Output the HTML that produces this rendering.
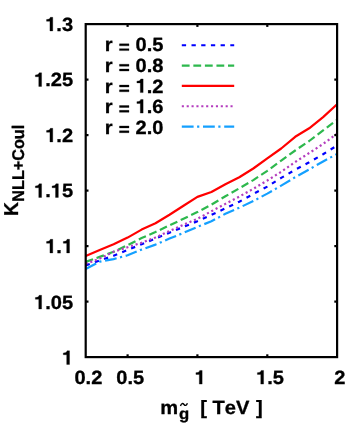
<!DOCTYPE html><html><head><meta charset="utf-8"><style>html,body{margin:0;padding:0;background:#fff}svg{display:block;will-change:transform}text{font-family:"Liberation Sans",sans-serif;font-weight:bold;fill:#000;stroke:#000;stroke-width:0.3px;text-rendering:geometricPrecision;font-kerning:none;white-space:pre}</style></head><body>
<svg width="349" height="439" viewBox="0 0 349 439">
<rect width="349" height="439" fill="#fff"/>
<polyline points="85.7,265.4 99.7,260.5 113.6,255.7 127.6,250.0 141.6,244.2 155.5,238.5 169.5,232.7 183.5,226.9 197.4,221.2 211.4,214.9 225.4,208.3 239.3,201.7 253.3,194.0 267.3,186.6 281.2,177.9 295.2,169.7 309.2,162.3 323.1,154.2 337.1,145.6" fill="none" stroke="#0000ff" stroke-width="2.2" stroke-dasharray="4.3,5.4" stroke-linejoin="round"/>
<polyline points="85.7,261.9 99.7,256.9 113.6,251.8 127.6,245.1 141.6,238.1 155.5,232.1 169.5,225.3 183.5,218.8 197.4,212.1 211.4,204.6 225.4,196.3 239.3,188.3 253.3,180.1 267.3,170.8 281.2,160.6 295.2,150.5 309.2,141.0 323.1,130.4 337.1,119.8" fill="none" stroke="#2db84d" stroke-width="2.2" stroke-dasharray="7.8,3.75" stroke-linejoin="round"/>
<polyline points="85.7,255.9 99.7,250.1 113.6,244.3 127.6,237.6 141.6,229.6 155.5,223.3 169.5,214.8 183.5,205.8 197.4,196.9 211.4,192.0 225.4,184.2 239.3,177.3 253.3,168.5 267.3,158.3 281.2,148.5 295.2,136.8 309.2,128.3 323.1,117.1 337.1,104.2" fill="none" stroke="#ff0000" stroke-width="2.2" stroke-linejoin="round"/>
<polyline points="85.7,263.8 99.7,258.6 113.6,251.8 127.6,247.2 141.6,242.7 155.5,237.5 169.5,231.0 183.5,224.8 197.4,218.8 211.4,211.3 225.4,203.9 239.3,196.6 253.3,188.8 267.3,180.5 281.2,171.8 295.2,162.0 309.2,153.0 323.1,144.0 337.1,133.7" fill="none" stroke="#b43cbe" stroke-width="2.2" stroke-dasharray="2.1,2.77" stroke-linejoin="round"/>
<polyline points="85.7,268.9 99.7,261.7 113.6,259.1 127.6,255.3 141.6,249.6 155.5,244.6 169.5,238.6 183.5,232.9 197.4,226.9 211.4,221.3 225.4,213.8 239.3,207.7 253.3,201.1 267.3,193.6 281.2,185.6 295.2,177.2 309.2,169.4 323.1,161.5 337.1,153.9" fill="none" stroke="#14a0ff" stroke-width="2.2" stroke-dasharray="11.8,3.5,2.2,3.7" stroke-linejoin="round"/>
<rect x="85.7" y="24.1" width="251.40000000000003" height="333.0" fill="none" stroke="#000" stroke-width="2.2"/>
<line x1="127.6" y1="357.1" x2="127.6" y2="354.3" stroke="#000" stroke-width="2.2"/>
<line x1="127.6" y1="24.1" x2="127.6" y2="26.900000000000002" stroke="#000" stroke-width="2.2"/>
<line x1="197.4" y1="357.1" x2="197.4" y2="354.3" stroke="#000" stroke-width="2.2"/>
<line x1="197.4" y1="24.1" x2="197.4" y2="26.900000000000002" stroke="#000" stroke-width="2.2"/>
<line x1="267.3" y1="357.1" x2="267.3" y2="354.3" stroke="#000" stroke-width="2.2"/>
<line x1="267.3" y1="24.1" x2="267.3" y2="26.900000000000002" stroke="#000" stroke-width="2.2"/>
<line x1="85.7" y1="301.6" x2="88.5" y2="301.6" stroke="#000" stroke-width="2.2"/>
<line x1="337.1" y1="301.6" x2="334.3" y2="301.6" stroke="#000" stroke-width="2.2"/>
<line x1="85.7" y1="246.1" x2="88.5" y2="246.1" stroke="#000" stroke-width="2.2"/>
<line x1="337.1" y1="246.1" x2="334.3" y2="246.1" stroke="#000" stroke-width="2.2"/>
<line x1="85.7" y1="190.6" x2="88.5" y2="190.6" stroke="#000" stroke-width="2.2"/>
<line x1="337.1" y1="190.6" x2="334.3" y2="190.6" stroke="#000" stroke-width="2.2"/>
<line x1="85.7" y1="135.1" x2="88.5" y2="135.1" stroke="#000" stroke-width="2.2"/>
<line x1="337.1" y1="135.1" x2="334.3" y2="135.1" stroke="#000" stroke-width="2.2"/>
<line x1="85.7" y1="79.6" x2="88.5" y2="79.6" stroke="#000" stroke-width="2.2"/>
<line x1="337.1" y1="79.6" x2="334.3" y2="79.6" stroke="#000" stroke-width="2.2"/>
<text transform="translate(88.4,384.1) scale(1.047,1)" font-size="19.2" text-anchor="middle" >0.2</text>
<text transform="translate(130.29999999999998,384.1) scale(1.047,1)" font-size="19.2" text-anchor="middle" >0.5</text>
<g transform="translate(200.13333333333333,384.1) scale(1.047,1)"><path transform="translate(-5.34,0) scale(19.2)" d="M0.378,0 H0.238 V-0.505 H0.069 V-0.597 C0.178,-0.598 0.236,-0.632 0.259,-0.710 H0.378 Z" fill="#000" stroke="#000" stroke-width="0.0156"/></g>
<g transform="translate(269.9666666666667,384.1) scale(1.047,1)"><path transform="translate(-13.35,0) scale(19.2)" d="M0.378,0 H0.238 V-0.505 H0.069 V-0.597 C0.178,-0.598 0.236,-0.632 0.259,-0.710 H0.378 Z" fill="#000" stroke="#000" stroke-width="0.0156"/><text x="-2.67" y="0" font-size="19.2" xml:space="preserve">.5</text></g>
<text transform="translate(339.8,384.1) scale(1.047,1)" font-size="19.2" text-anchor="middle" >2</text>
<g transform="translate(73.1,364.45000000000005) scale(1.047,1)"><path transform="translate(-10.68,0) scale(19.2)" d="M0.378,0 H0.238 V-0.505 H0.069 V-0.597 C0.178,-0.598 0.236,-0.632 0.259,-0.710 H0.378 Z" fill="#000" stroke="#000" stroke-width="0.0156"/></g>
<g transform="translate(73.1,308.95000000000005) scale(1.047,1)"><path transform="translate(-37.37,0) scale(19.2)" d="M0.378,0 H0.238 V-0.505 H0.069 V-0.597 C0.178,-0.598 0.236,-0.632 0.259,-0.710 H0.378 Z" fill="#000" stroke="#000" stroke-width="0.0156"/><text x="-26.69" y="0" font-size="19.2" xml:space="preserve">.05</text></g>
<g transform="translate(73.1,252.95000000000002) scale(1.047,1)"><path transform="translate(-26.69,0) scale(19.2)" d="M0.378,0 H0.238 V-0.505 H0.069 V-0.597 C0.178,-0.598 0.236,-0.632 0.259,-0.710 H0.378 Z" fill="#000" stroke="#000" stroke-width="0.0156"/><text x="-16.01" y="0" font-size="19.2" xml:space="preserve">.</text><path transform="translate(-10.68,0) scale(19.2)" d="M0.378,0 H0.238 V-0.505 H0.069 V-0.597 C0.178,-0.598 0.236,-0.632 0.259,-0.710 H0.378 Z" fill="#000" stroke="#000" stroke-width="0.0156"/></g>
<g transform="translate(73.1,197.45000000000002) scale(1.047,1)"><path transform="translate(-37.37,0) scale(19.2)" d="M0.378,0 H0.238 V-0.505 H0.069 V-0.597 C0.178,-0.598 0.236,-0.632 0.259,-0.710 H0.378 Z" fill="#000" stroke="#000" stroke-width="0.0156"/><text x="-26.69" y="0" font-size="19.2" xml:space="preserve">.</text><path transform="translate(-21.36,0) scale(19.2)" d="M0.378,0 H0.238 V-0.505 H0.069 V-0.597 C0.178,-0.598 0.236,-0.632 0.259,-0.710 H0.378 Z" fill="#000" stroke="#000" stroke-width="0.0156"/><text x="-10.68" y="0" font-size="19.2" xml:space="preserve">5</text></g>
<g transform="translate(73.1,141.95000000000002) scale(1.047,1)"><path transform="translate(-26.69,0) scale(19.2)" d="M0.378,0 H0.238 V-0.505 H0.069 V-0.597 C0.178,-0.598 0.236,-0.632 0.259,-0.710 H0.378 Z" fill="#000" stroke="#000" stroke-width="0.0156"/><text x="-16.01" y="0" font-size="19.2" xml:space="preserve">.2</text></g>
<g transform="translate(73.1,86.45000000000002) scale(1.047,1)"><path transform="translate(-37.37,0) scale(19.2)" d="M0.378,0 H0.238 V-0.505 H0.069 V-0.597 C0.178,-0.598 0.236,-0.632 0.259,-0.710 H0.378 Z" fill="#000" stroke="#000" stroke-width="0.0156"/><text x="-26.69" y="0" font-size="19.2" xml:space="preserve">.25</text></g>
<g transform="translate(73.1,30.950000000000024) scale(1.047,1)"><path transform="translate(-26.69,0) scale(19.2)" d="M0.378,0 H0.238 V-0.505 H0.069 V-0.597 C0.178,-0.598 0.236,-0.632 0.259,-0.710 H0.378 Z" fill="#000" stroke="#000" stroke-width="0.0156"/><text x="-16.01" y="0" font-size="19.2" xml:space="preserve">.3</text></g>
<g transform="translate(104.8,51.4) scale(1.047,1)"><text x="0.00" y="0" font-size="19.2" xml:space="preserve">r </text><path transform="translate(12.81,0) scale(19.2)" d="M0.062,-0.392 H0.535 V-0.291 H0.062 Z M0.062,-0.143 H0.535 V-0.042 H0.062 Z" fill="#000" stroke="#000" stroke-width="0.0156"/><text x="24.02" y="0" font-size="19.2" xml:space="preserve"> 0.5</text></g>
<line x1="181.8" y1="45.25" x2="234.2" y2="45.25" stroke="#0000ff" stroke-width="2.2" stroke-dasharray="4.3,5.4"/>
<g transform="translate(104.8,71.8) scale(1.047,1)"><text x="0.00" y="0" font-size="19.2" xml:space="preserve">r </text><path transform="translate(12.81,0) scale(19.2)" d="M0.062,-0.392 H0.535 V-0.291 H0.062 Z M0.062,-0.143 H0.535 V-0.042 H0.062 Z" fill="#000" stroke="#000" stroke-width="0.0156"/><text x="24.02" y="0" font-size="19.2" xml:space="preserve"> 0.8</text></g>
<line x1="181.8" y1="65.59" x2="234.2" y2="65.59" stroke="#2db84d" stroke-width="2.2" stroke-dasharray="7.8,3.75"/>
<g transform="translate(104.8,92.6) scale(1.047,1)"><text x="0.00" y="0" font-size="19.2" xml:space="preserve">r </text><path transform="translate(12.81,0) scale(19.2)" d="M0.062,-0.392 H0.535 V-0.291 H0.062 Z M0.062,-0.143 H0.535 V-0.042 H0.062 Z" fill="#000" stroke="#000" stroke-width="0.0156"/><text x="24.02" y="0" font-size="19.2" xml:space="preserve"> </text><path transform="translate(29.35,0) scale(19.2)" d="M0.378,0 H0.238 V-0.505 H0.069 V-0.597 C0.178,-0.598 0.236,-0.632 0.259,-0.710 H0.378 Z" fill="#000" stroke="#000" stroke-width="0.0156"/><text x="40.03" y="0" font-size="19.2" xml:space="preserve">.2</text></g>
<line x1="181.8" y1="85.93" x2="234.2" y2="85.93" stroke="#ff0000" stroke-width="2.2"/>
<g transform="translate(104.8,113.1) scale(1.047,1)"><text x="0.00" y="0" font-size="19.2" xml:space="preserve">r </text><path transform="translate(12.81,0) scale(19.2)" d="M0.062,-0.392 H0.535 V-0.291 H0.062 Z M0.062,-0.143 H0.535 V-0.042 H0.062 Z" fill="#000" stroke="#000" stroke-width="0.0156"/><text x="24.02" y="0" font-size="19.2" xml:space="preserve"> </text><path transform="translate(29.35,0) scale(19.2)" d="M0.378,0 H0.238 V-0.505 H0.069 V-0.597 C0.178,-0.598 0.236,-0.632 0.259,-0.710 H0.378 Z" fill="#000" stroke="#000" stroke-width="0.0156"/><text x="40.03" y="0" font-size="19.2" xml:space="preserve">.6</text></g>
<line x1="181.8" y1="106.27" x2="234.2" y2="106.27" stroke="#b43cbe" stroke-width="2.2" stroke-dasharray="2.1,2.77"/>
<g transform="translate(104.8,133.5) scale(1.047,1)"><text x="0.00" y="0" font-size="19.2" xml:space="preserve">r </text><path transform="translate(12.81,0) scale(19.2)" d="M0.062,-0.392 H0.535 V-0.291 H0.062 Z M0.062,-0.143 H0.535 V-0.042 H0.062 Z" fill="#000" stroke="#000" stroke-width="0.0156"/><text x="24.02" y="0" font-size="19.2" xml:space="preserve"> 2.0</text></g>
<line x1="181.8" y1="126.61" x2="234.2" y2="126.61" stroke="#14a0ff" stroke-width="2.2" stroke-dasharray="11.8,3.5,2.2,3.7"/>
<text transform="translate(160.3,413.7) scale(1.047,1)" font-size="19.2" text-anchor="start" >m</text>
<text transform="translate(179.0,419.3) scale(1.047,1)" font-size="16.0" text-anchor="start" >g</text>
<path d="M180.5,406.0 C181.4,403.0 182.8,403.0 184.0,404.5 C185.2,406.0 186.4,405.7 187.4,403.2" fill="none" stroke="#000" stroke-width="1.4"/>
<text transform="translate(200.2,413.6) scale(1.047,1)" font-size="19.2" text-anchor="start" >[ TeV <tspan dx="1.1">]</tspan></text>
<text transform="translate(17.8,216) scale(1.047,1) rotate(-90)" font-size="19.2">K<tspan font-size="16.2" dx="0.5" dy="6.3">NLL+Coul</tspan></text>
</svg></body></html>
